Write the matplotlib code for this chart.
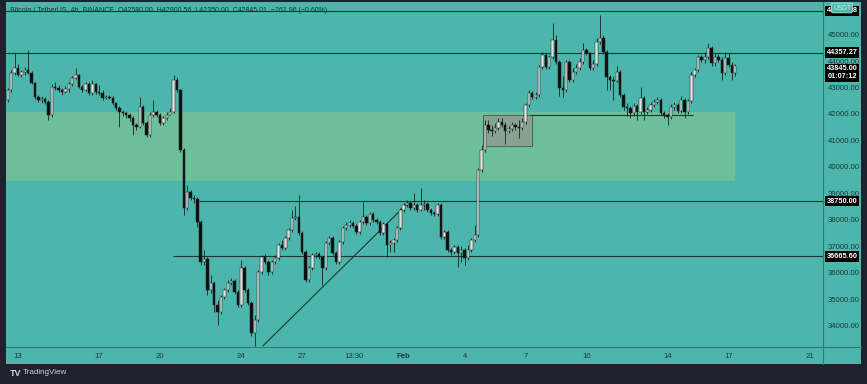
import numpy as np
import matplotlib
matplotlib.use('Agg')
import matplotlib.pyplot as plt
from matplotlib.patches import Rectangle
from matplotlib.lines import Line2D

plt.rcParams['font.family'] = ['Liberation Sans', 'DejaVu Sans']

# BTCUSDT 4h candles, first one at 12 Jan 12:00
first_open = 42570
closes = [
    42940, 43590, 43770, 43510, 43620, 43700, 43590, 43210, 42680, 42570,
    42600, 42490, 42000, 43060, 43020, 42940, 42870, 42980, 43170, 43400,
    43510, 43060, 42940, 43170, 42830, 43170, 42870, 42830, 42640, 42680,
    42660, 42450, 42260, 42110, 42080, 42000, 41890, 41620, 41550, 42300,
    41700, 41250, 42000, 42110, 42000, 41700, 41890, 42000, 42110, 43320,
    42940, 40680, 38490, 39090, 38870, 38830, 37960, 36450, 36570, 35400,
    35660, 34830, 34570, 35130, 35400, 35660, 35740, 35320, 34830, 36230,
    35400, 34910, 33770, 34260, 36080, 36640, 36450, 36080, 36450, 36600,
    37090, 36980, 37360, 37660, 38110, 38150, 37550, 36830, 35770, 36230,
    36720, 36750, 36640, 36230, 37170, 37360, 36790, 36450, 37210, 37740,
    37850, 37920, 37810, 37590, 37960, 38150, 37920, 38260, 38040, 37960,
    37550, 37890, 37090, 37170, 37280, 37740, 38420, 38600, 38680, 38490,
    38600, 38420, 38600, 38640, 38420, 38300, 38260, 38600, 37400, 37590,
    36910, 36830, 37020, 36790, 36910, 36600, 36910, 37280, 37470, 39920,
    40680, 41620, 41430, 41400, 41510, 41740, 41620, 41400, 41470, 41620,
    41550, 41510, 41740, 42380, 42830, 42680, 42760, 43810, 44260, 43810,
    44190, 44830, 44000, 43020, 42940, 44000, 43320, 43620, 43770, 44000,
    44450, 44340, 43770, 43920, 44750, 44910, 44380, 43430, 43320, 43280,
    43620, 42760, 42300, 42260, 42080, 42340, 42110, 42640, 42110, 42190,
    42380, 42490, 42570, 42080, 42000, 41920, 42300, 42380, 42150, 42570,
    42110, 42530, 43510, 43700, 44190, 44080, 44190, 44530, 43960, 44190,
    44080, 43590, 44150, 43890, 43590, 43845,
]
highs = [
    43020, 43700, 44340, 43920, 43700, 43810, 44450, 43660, 43250, 42760,
    42720, 42680, 42570, 43170, 43250, 43130, 43020, 43090, 43250, 43470,
    43770, 43550, 43130, 43250, 43250, 43320, 43210, 43130, 42940, 42760,
    42760, 42720, 42490, 42340, 42190, 42150, 42080, 41960, 41700, 42680,
    42380, 41770, 42110, 42570, 42190, 42080, 41960, 42110, 42260, 43510,
    43430, 42980, 40760, 39360, 39170, 38980, 38910, 38040, 36910, 36640,
    35960, 35740, 35020, 35210, 35470, 35770, 35850, 35810, 35400, 36530,
    36300, 35470, 34980, 34450, 36150, 36720, 36760, 36530, 36530, 36720,
    37170, 37280, 37430, 37740, 38420, 38570, 38980, 37620, 36910, 36300,
    36790, 36830, 36830, 36720, 37250, 37430, 37430, 36870, 37280, 37810,
    37960, 38040, 38000, 37890, 38040, 38720, 38230, 38340, 38340, 38110,
    38040, 37960, 37960, 37280, 37360, 37810, 38490, 38680, 38790, 38750,
    39060, 38680, 39250, 38790, 38720, 38490, 38380, 38680, 38680, 37660,
    37660, 36980, 37090, 37090, 37060, 36980, 37090, 37360, 37850, 40000,
    40870, 41810, 41810, 41620, 41700, 41890, 41890, 41740, 41590, 41740,
    41700, 41810, 41890, 42450, 42940, 42910, 42870, 43890, 44380, 44340,
    44260, 45470, 45020, 44080, 43470, 44080, 44080, 43770, 43920, 44150,
    44720, 44530, 44380, 44080, 44910, 45770, 45020, 44450, 43510, 43470,
    43850, 43700, 42830, 42450, 42340, 42450, 42420, 43060, 42720, 42300,
    42490, 42600, 42680, 42640, 42150, 42080, 42420, 42490, 42450, 42720,
    42640, 42600, 43620, 43770, 44260, 44260, 44380, 44720, 44600, 44340,
    44300, 44190, 44380, 44340, 44000, 43920,
]
lows = [
    42490, 42870, 43510, 43470, 43430, 43510, 43550, 43170, 42600, 42490,
    42450, 42420, 41810, 41930, 42940, 42870, 42760, 42830, 42870, 43090,
    43360, 43020, 42870, 42910, 42760, 42760, 42790, 42760, 42570, 42600,
    42600, 42380, 42190, 41550, 41960, 41890, 41770, 41250, 41430, 41510,
    41620, 41170, 41170, 41930, 41930, 41620, 41620, 41810, 42000, 42080,
    42870, 40600, 38230, 38420, 38790, 38680, 37770, 36340, 36340, 35210,
    35280, 34570, 34080, 34490, 35060, 35320, 35590, 35250, 34760, 34760,
    35320, 34830, 33660, 33280, 34190, 36000, 36380, 35960, 36000, 36380,
    36530, 36910, 36910, 37280, 37590, 38040, 37470, 36750, 35700, 35700,
    36150, 36600, 36570, 35590, 36150, 37090, 36720, 36380, 36380, 37130,
    37660, 37770, 37740, 37510, 37510, 37890, 37850, 37850, 37960, 37890,
    37470, 37470, 36640, 36830, 36830, 37210, 37660, 38340, 38530, 38420,
    38420, 38340, 38380, 38420, 38340, 38230, 38190, 38190, 37320, 37320,
    36830, 36720, 36750, 36260, 36450, 36340, 36530, 36830, 37210, 37400,
    39850, 40600, 41320, 41210, 41320, 41430, 41550, 40910, 41320, 41400,
    41430, 41130, 41430, 41660, 42300, 42600, 42600, 42680, 43740, 43740,
    43740, 44110, 43920, 42720, 42680, 42870, 43250, 43250, 43550, 43700,
    43920, 44260, 43700, 43700, 43850, 44680, 44300, 42940, 42940, 42570,
    43250, 42680, 42190, 41960, 41890, 41960, 41810, 42040, 41810, 42040,
    42110, 42300, 42420, 42000, 41890, 41620, 41850, 42190, 42080, 42080,
    41890, 42040, 42450, 43430, 43620, 44000, 43960, 44110, 43850, 43850,
    44000, 43320, 43510, 43810, 43320, 43470,
]

# time axis labels, in days after 13 Jan 00:00
tick_pos = [0, 4, 7, 11, 14, 16.55, 19, 22, 25, 28, 32, 35, 39]
tick_txt = ['13', '17', '20', '24', '27', '13:30', 'Feb', '4', '7', '10', '14', '17', '21']

price_ticks = [34000, 35000, 36000, 37000, 38000, 39000, 40000, 41000,
               42000, 43000, 44000, 45000]

# drawn levels
top_level = 45925.98
res_level = 44357.27
lvl_38750 = 38750.00
lvl_36665 = 36665.60
zone_lo, zone_hi = 39510, 42110
box_lo, box_hi = 40830, 42000

BG = '#1e222d'
TEAL = '#4db6ac'
ZONE = '#6cbf99'
LINE = '#1f3532'
AXTXT = '#173b37'
SEP = '#2e7d75'

W, H = 867, 384
fig = plt.figure(figsize=(W / 100, H / 100), dpi=100, facecolor=BG)


def fr(x0, y0, x1, y1):
    # pixel box -> figure fraction [l, b, w, h]
    return [x0 / W, 1 - y1 / H, (x1 - x0) / W, (y1 - y0) / H]


def y2p(y):
    return 42000 + (115 - y) * 37.74


def bare(a):
    for s in a.spines.values():
        s.set_visible(False)
    a.set_xticks([])
    a.set_yticks([])


x0, x1 = -0.591, 39.655

# price column
pax = fig.add_axes(fr(823, 2, 861, 364))
pax.set_facecolor(TEAL)
pax.set_xlim(0, 1)
pax.set_ylim(y2p(364), y2p(2))
bare(pax)

# time row
tax = fig.add_axes(fr(6, 347, 823, 364))
tax.set_facecolor(TEAL)
tax.set_xlim(x0, x1)
tax.set_ylim(0, 1)
bare(tax)

ax = fig.add_axes(fr(6, 2, 823, 347))
ax.set_facecolor(TEAL)
ax.set_xlim(x0, x1)
ax.set_ylim(y2p(347), y2p(2))
bare(ax)

n = len(closes)
t = -0.5 + np.arange(n) / 6
o = np.array([first_open] + closes[:-1], dtype=float)
c = np.array(closes, dtype=float)
hi = np.array(highs, dtype=float)
lo = np.array(lows, dtype=float)

# demand zone and consolidation box
ax.add_patch(Rectangle((x0, zone_lo), 35.32 - x0, zone_hi - zone_lo,
                       facecolor=ZONE, edgecolor='none', zorder=1))
ax.add_patch(Rectangle((22.9, box_lo), 2.42, box_hi - box_lo,
                       facecolor='#8c9f92', edgecolor='#3e4d47', lw=0.6,
                       alpha=0.9, zorder=2))

# levels
ax.axhline(top_level, color=LINE, lw=0.8, zorder=2)
ax.axhline(res_level, color=LINE, lw=0.8, zorder=2)
ax.hlines(lvl_38750, 8.92, x1, color=LINE, lw=0.8, zorder=2)
ax.hlines(lvl_36665, 7.64, x1, color=LINE, lw=0.8, zorder=2)
ax.hlines(41990, 25.2, 33.25, color=LINE, lw=0.8, zorder=2)
ax.plot([12.07, 19.21], [33290, 38680], color=LINE, lw=0.8, zorder=2)

# candles
up = c >= o
ax.vlines(t, lo, hi, color='#17211f', lw=0.6, zorder=3)
body_lo = np.minimum(o, c)
body_h = np.maximum(np.abs(c - o), 25)
ax.bar(t, body_h, bottom=body_lo, width=0.12,
       color=np.where(up, '#dfe3e2', '#0d0f0f'),
       edgecolor='#17211f', linewidth=0.35, zorder=4)

ax.text(0.005, y2p(10), 'Bitcoin / TetherUS, 4h, BINANCE  O42580.00  H42900.56  '
        'L42350.00  C42845.01  \u2212261.96 (\u22120.60%)',
        transform=ax.get_yaxis_transform(), fontsize=5, color='#16302d',
        va='center', ha='left', zorder=5)

# price scale
for p in price_ticks:
    pax.text(0.55, p, f'{p:.2f}', fontsize=5.6, color=AXTXT,
             ha='center', va='center', zorder=5)


def tag(y, txt):
    pax.text(0.5, y, txt, fontsize=5.3, color='white', weight='bold',
             ha='center', va='center', linespacing=1.1, zorder=6,
             bbox=dict(boxstyle='square,pad=0.25', fc='black', ec='none'))


tag(top_level, f'{top_level:.2f}')
tag(res_level, f'{res_level:.2f}')
tag(43600, f'{closes[-1]:.2f}\n01:07:12')
tag(lvl_38750, f'{lvl_38750:.2f}')
tag(lvl_36665, f'{lvl_36665:.2f}')
pax.text(0.5, y2p(8), 'USDT', fontsize=4.8, color='#dff3f1',
         ha='center', va='center', zorder=7,
         bbox=dict(boxstyle='round,pad=0.2', fc=TEAL, ec='#b8e3df', lw=0.6))

# time scale
for pos, txt in zip(tick_pos, tick_txt):
    tax.text(pos, 0.45, txt, fontsize=5.6, color=AXTXT, ha='center',
             va='center', zorder=5,
             weight='bold' if txt == 'Feb' else 'normal')

# separators
fig.add_artist(Line2D([823 / W, 823 / W], [1 - 2 / H, 1 - 364 / H],
                      color=SEP, lw=0.8))
fig.add_artist(Line2D([6 / W, 861 / W], [1 - 347 / H, 1 - 347 / H],
                      color=SEP, lw=0.8))

fig.text(10 / W, 1 - 373 / H, 'TV', fontsize=6.5, weight='bold',
         color='#d1d4dc', va='center')
fig.text(23 / W, 1 - 373 / H, 'TradingView', fontsize=5.8,
         color='#d1d4dc', va='center')

fig.savefig('out.png', dpi=100, facecolor=BG)
